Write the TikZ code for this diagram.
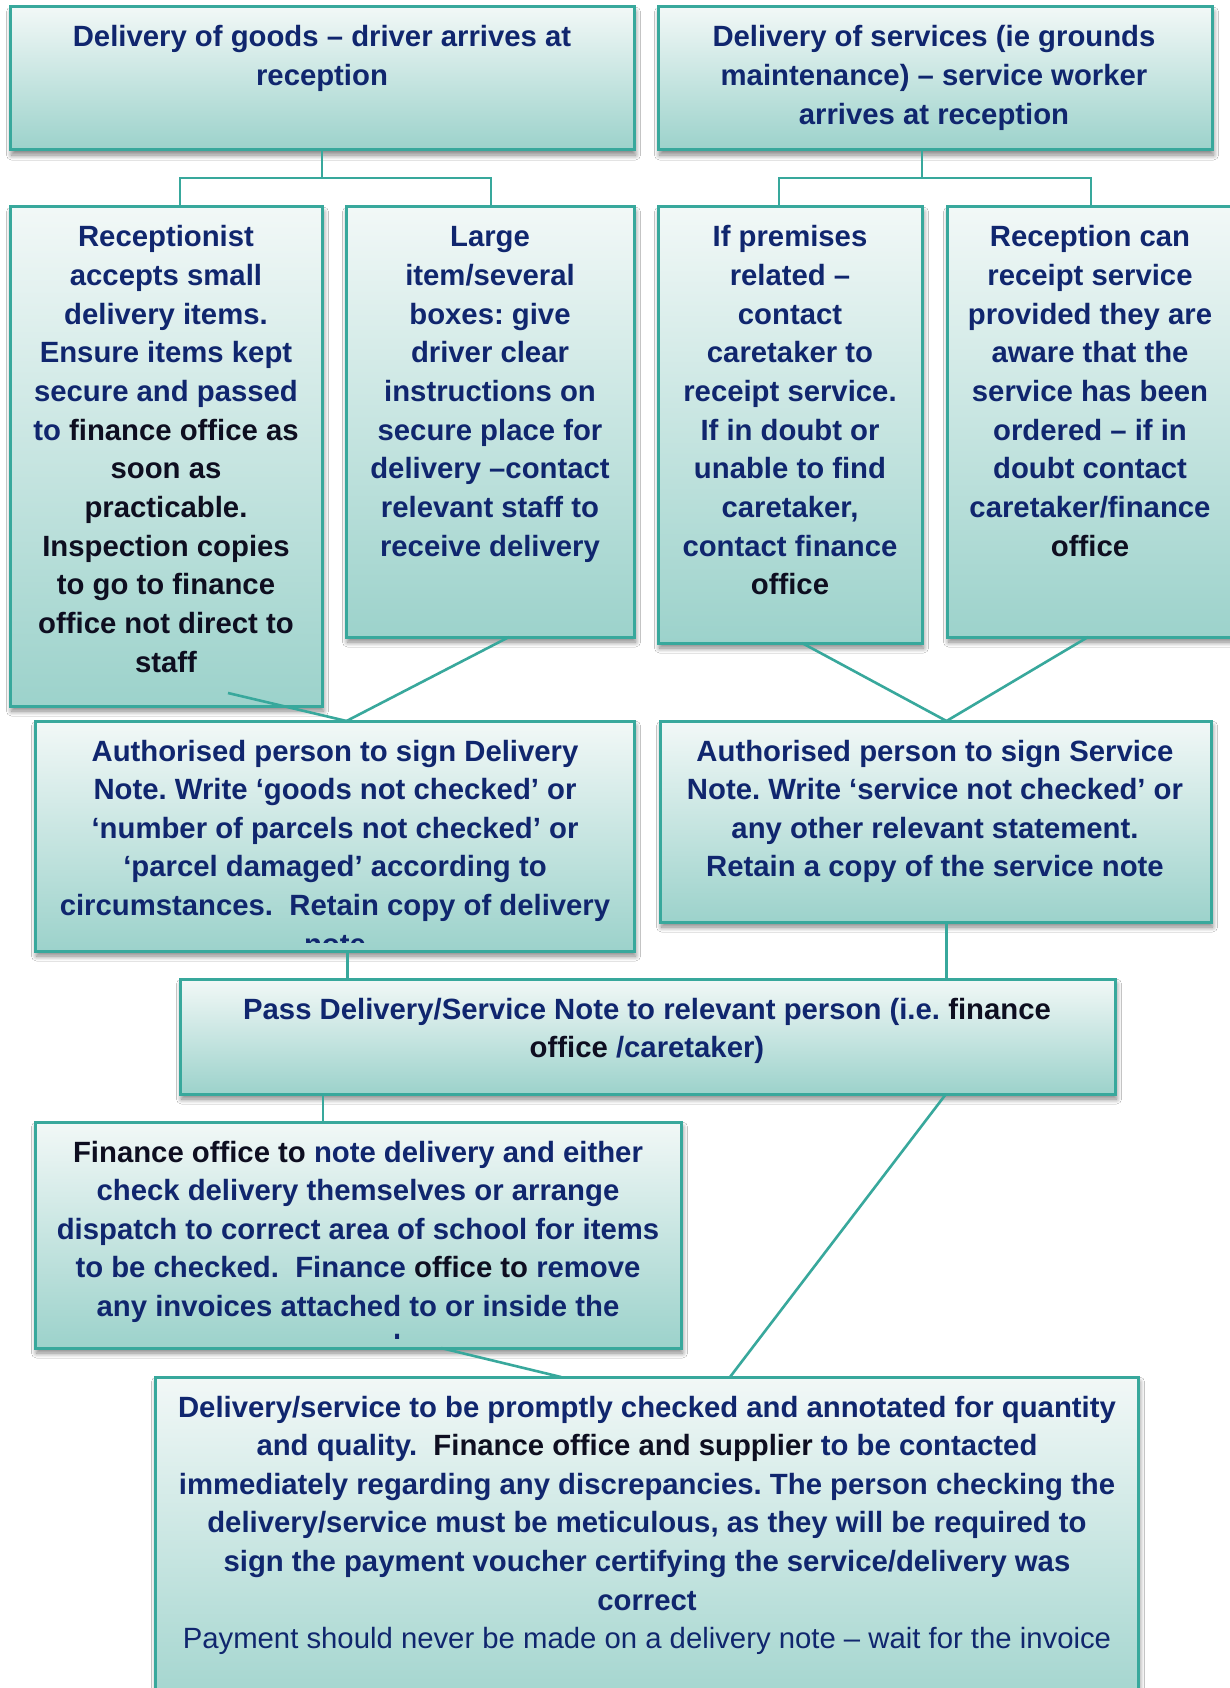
\documentclass[tikz,border=0pt]{standalone}
\usepackage{fontspec}
\setmainfont{Liberation Sans}
\usetikzlibrary{shadows.blur,calc}
\definecolor{navy}{RGB}{16,38,110}
\definecolor{blk}{RGB}{14,14,32}
\definecolor{tealline}{RGB}{56,168,156}
\definecolor{topc}{RGB}{242,248,247}
\definecolor{botc}{RGB}{156,210,203}
\tikzset{
 box/.style={draw=tealline, line width=3pt, top color=topc, bottom color=botc,
   inner sep=0pt, outer sep=0pt,
   blur shadow={shadow xshift=1.5pt, shadow yshift=-5pt, shadow blur radius=5pt, shadow blur steps=10, shadow opacity=50}},
 conn/.style={draw=tealline, line width=2.6pt},
 txt/.style={anchor=base, inner sep=0pt, outer sep=0pt, text=navy}
}
\newcommand\mkbox[5]{\node[box, minimum width={#4-#2}, minimum height={#5-#3}] (#1) at ({(#2+#4)/2},{(#3+#5)/2}) {};}
\newcommand\mktext[5]{\node[txt] (#1) at (#2,#3) {\parbox[t]{#4pt}{\leavevmode\frenchspacing\centering\fontsize{29.3pt}{38.65pt}\selectfont\bfseries #5}};}
\begin{document}
\begin{tikzpicture}[x=1pt,y=-1pt]
\useasboundingbox (0,0) rectangle (1230,1688);
\clip (0,0) rectangle (1230,1688);
\fill[white] (0,0) rectangle (1230,1688);
% boxes
\mkbox{A}{10}{7}{634}{150}
\mkbox{B}{658}{7}{1212}{150}
\mkbox{C}{10}{207}{322}{706}
\mkbox{D}{346}{207}{634}{637}
\mkbox{E}{658}{207}{922}{643}
\mkbox{F}{947}{207}{1233}{637}
\mkbox{G}{35}{721}{634}{951}
\mkbox{H}{660}{721}{1211}{922}
\mkbox{I}{180}{979}{1115}{1094}
\mkbox{J}{35}{1122}{681}{1348}
\mkbox{K}{155}{1377}{1138}{1730}
% texts
\mktext{tA}{322}{47}{640}{Delivery of goods – driver arrives at\\reception}
\mktext{tB}{934}{47}{560}{Delivery of services (ie grounds\\maintenance) – service worker\\arrives at reception}
\mktext{tC}{166}{247}{320}{Receptionist\\accepts small\\delivery items.\\Ensure items kept\\secure and passed\\to {\color{blk}finance office as\\soon as\\practicable.\\Inspection copies\\to go to finance\\office not direct to\\staff}}
\mktext{tD}{490}{247}{300}{Large\\item/several\\boxes: give\\driver clear\\instructions on\\secure place for\\delivery –contact\\relevant staff to\\receive delivery}
\mktext{tE}{790}{247}{280}{If premises\\related –\\contact\\caretaker to\\receipt service.\\If in doubt or\\unable to find\\caretaker,\\contact finance\\{\color{blk}office}}
\mktext{tF}{1090}{247}{300}{Reception can\\receipt service\\provided they are\\aware that the\\service has been\\ordered – if in\\doubt contact\\caretaker/finance\\{\color{blk}office}}
\begin{scope}
\clip (G.north west) rectangle ([yshift=9pt]G.south east);
\mktext{tG}{335}{761}{620}{Authorised person to sign Delivery\\Note. Write ‘goods not checked’ or\\‘number of parcels not checked’ or\\‘parcel damaged’ according to\\circumstances.\ \ Retain copy of delivery\\note}
\end{scope}
\mktext{tH}{935}{761}{580}{Authorised person to sign Service\\Note. Write ‘service not checked’ or\\any other relevant statement.\\Retain a copy of the service note}
\mktext{tI}{647}{1019}{940}{Pass Delivery/Service Note to relevant person (i.e. {\color{blk}finance}\\{\color{blk}office} /caretaker)}
\begin{scope}
\clip (J.north west) rectangle ([yshift=10pt]J.south east);
\mktext{tJ}{358}{1162}{660}{{\color{blk}Finance office to} note delivery and either\\check delivery themselves or arrange\\dispatch to correct area of school for items\\to be checked.\ \ Finance {\color{blk}office to} remove\\any invoices attached to or inside the\\parcel}
\end{scope}
\mktext{tK}{647}{1417}{1000}{Delivery/service to be promptly checked and annotated for quantity\\and quality.\ \ {\color{blk}Finance office and supplier} to be contacted\\immediately regarding any discrepancies. The person checking the\\delivery/service must be meticulous, as they will be required to\\sign the payment voucher certifying the service/delivery was\\correct\\{\mdseries Payment should never be made on a delivery note – wait for the invoice}}
% connectors
\draw[conn] (A.south) -- ++(0,28) coordinate (jA);
\draw[conn] ([xshift=14pt]C.north) |- (jA) -| ([xshift=1pt]D.north);
\draw[conn] ([xshift=-13pt]B.south) -- ++(0,28) coordinate (jB);
\draw[conn] ([xshift=-11pt]E.north) |- (jB) -| ([xshift=1pt]F.north);
\draw[conn] ([xshift=62pt,yshift=13pt]C.south) -- ([xshift=12pt]G.north);
\draw[conn] ([xshift=19pt]D.south) -- ([xshift=12pt]G.north);
\draw[conn] ([xshift=12pt]E.south) -- ([xshift=11pt]H.north);
\draw[conn] ([xshift=-2pt]F.south) -- ([xshift=11pt]H.north);
\draw[conn] ([xshift=13pt]G.south) -- ([xshift=13pt]G.south |- I.north);
\draw[conn] ([xshift=11pt]H.south) -- ([xshift=11pt]H.south |- I.north);
\draw[conn] ([xshift=143pt]I.south west) -- ([xshift=143pt]I.south west |- J.north);
\draw[conn] ([xshift=-169pt]I.south east) -- ([xshift=-408pt]K.north east);
\draw[conn] ([xshift=-240pt]J.south east) -- ([xshift=406pt]K.north west);
\end{tikzpicture}
\end{document}
